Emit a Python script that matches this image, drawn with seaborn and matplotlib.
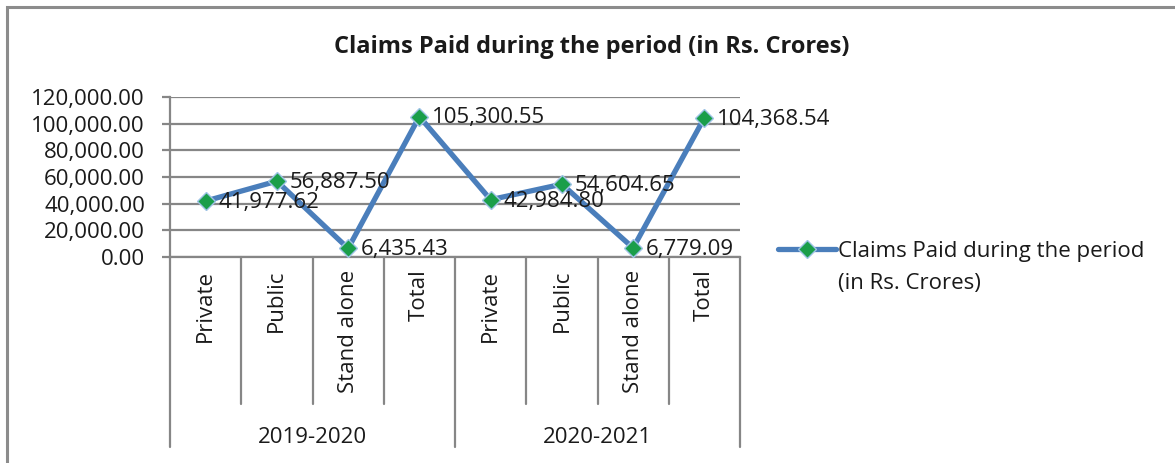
import pandas as pd
import matplotlib.pyplot as plt
import seaborn as sns
from matplotlib.patches import Rectangle
import matplotlib.transforms as mtransforms

# Data
years = ["2019-2020", "2020-2021"]
categories = ["Private", "Public", "Stand alone", "Total",
              "Private", "Public", "Stand alone", "Total"]
claims_paid = [41977.62, 56887.50, 6435.43, 105300.55,
               42984.80, 54604.65, 6779.09, 104368.54]
series_name = "Claims Paid during the period (in Rs. Crores)"

df = pd.DataFrame({"pos": range(len(claims_paid)), "category": categories, "value": claims_paid})

sns.set_style("white")
plt.rcParams['font.family'] = ['Open Sans', 'DejaVu Sans']

grid_col = "#868686"
line_col = "#4a7ebb"
marker_col = "#1a9e4a"
text_col = "#1a1a1a"

fig = plt.figure(figsize=(11.75, 4.63), dpi=100)
ax = fig.add_axes([170 / 1175, 1 - 257 / 463, 570 / 1175, 160 / 463])

sns.lineplot(data=df, x="pos", y="value", ax=ax, color=line_col, linewidth=3.8,
             marker="D", markersize=9, markerfacecolor=marker_col,
             markeredgecolor="#9ec3e6", markeredgewidth=1.0, label=series_name,
             legend=False, zorder=5)

ax.set_xlim(-0.5, len(claims_paid) - 0.5)
ax.set_ylim(0, 120000)
ax.set_yticks(range(0, 120001, 20000))
ax.set_yticklabels([f"{v:,.2f}" for v in range(0, 120001, 20000)], fontsize=16, color=text_col)
ax.yaxis.grid(True, color=grid_col, linewidth=1.6)
ax.tick_params(axis="y", length=6, width=1.6, color=grid_col, pad=12, left=True)
for side in ["top", "right"]:
    ax.spines[side].set_visible(False)
ax.spines["left"].set_color(grid_col)
ax.spines["left"].set_linewidth(1.6)
ax.spines["bottom"].set_color(grid_col)
ax.spines["bottom"].set_linewidth(1.6)
ax.set_xlabel("")
ax.set_ylabel("")

ax.set_xticks(df["pos"])
ax.set_xticklabels(categories, rotation=90, fontsize=16, color=text_col)
ax.tick_params(axis="x", length=0, pad=9)

# category separators and year groups below axis
trans = mtransforms.blended_transform_factory(ax.transData, ax.transAxes)
n = len(categories)
per_year = n // len(years)
for i in range(n + 1):
    b = i - 0.5
    y_end = -1.19 if i % per_year == 0 else -0.92
    ax.plot([b, b], [0, y_end], transform=trans, color=grid_col, lw=1.6, clip_on=False)
for j, yr in enumerate(years):
    center = j * per_year + (per_year - 1) / 2
    ax.text(center, -1.125, yr, transform=trans, ha="center", va="center",
            fontsize=16, color=text_col)

# data labels
for x, v in zip(df["pos"], claims_paid):
    ax.annotate(f"{v:,.2f}", (x, v), xytext=(9, -1), textcoords="offset points",
                ha="left", va="center", fontsize=16, color=text_col, zorder=6)

# title
fig.text(592 / 1175, 1 - 47 / 463, series_name, ha="center", va="center",
         fontsize=17, fontweight="bold", color=text_col)

# legend: handle aligned with first text line, second line as extra text
leg_lines = series_name.replace(" (in", "\n(in").split("\n")
leg = ax.legend(handles=ax.get_lines()[:1], labels=[leg_lines[0]],
                loc="center left", bbox_to_anchor=(778 / 1175, 1 - 251 / 463),
                bbox_transform=fig.transFigure, frameon=False, fontsize=16,
                handlelength=2.6, handletextpad=0.1, borderaxespad=0, borderpad=0)
for t in leg.get_texts():
    t.set_color(text_col)
fig.text(838 / 1175, 1 - 284 / 463, leg_lines[1], ha="left", va="center",
         fontsize=16, color=text_col)

# outer border
fig.patches.append(Rectangle((7 / 1175, -0.1), 1.1, 1.1 - 7 / 463,
                             transform=fig.transFigure, fill=False,
                             edgecolor="#8c8c8c", linewidth=2.2))

fig.savefig("out.png", dpi=100)
